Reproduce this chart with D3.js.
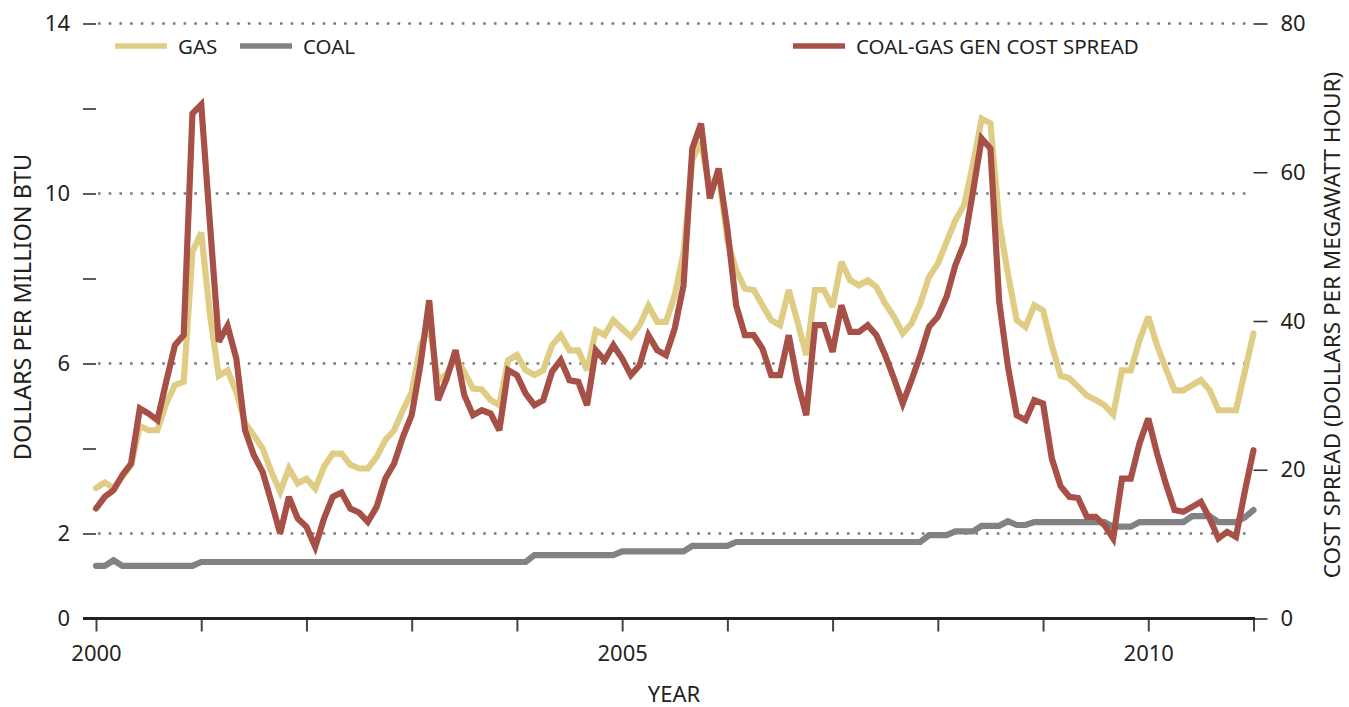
<!DOCTYPE html>
<html>
<head>
<meta charset="utf-8">
<script src="https://cdn.jsdelivr.net/npm/d3@7"></script>
<style>
  html, body { margin: 0; padding: 0; background: #fff; }
  svg { display: block; font-family: "Noto Sans", "Open Sans", sans-serif; }
</style>
</head>
<body>
<svg id="chart" width="1349" height="707"></svg>
<script>
// ---- Data (monthly, Jan 2000 .. Jan 2011) ----
const startYear = 2000;
const gas = [
  3.07, 3.20, 3.07, 3.33, 3.61, 4.53, 4.43, 4.43, 5.06, 5.49, 5.57, 8.63,
  9.08, 7.14, 5.71, 5.84, 5.33, 4.59, 4.31, 4.00, 3.45, 2.98, 3.53, 3.18,
  3.29, 3.06, 3.57, 3.88, 3.88, 3.62, 3.53, 3.53, 3.80, 4.20, 4.43, 4.90,
  5.33, 6.40, 6.90, 5.61, 5.75, 6.15, 5.80, 5.41, 5.39, 5.14, 5.02, 6.08,
  6.20, 5.84, 5.73, 5.84, 6.43, 6.67, 6.31, 6.31, 5.84, 6.78, 6.67, 7.02,
  6.82, 6.63, 6.90, 7.36, 6.98, 6.98, 7.61, 8.60, 10.80, 11.20, 10.10, 10.50,
  8.90, 8.20, 7.76, 7.73, 7.37, 7.02, 6.90, 7.73, 6.98, 6.20, 7.73, 7.73,
  7.33, 8.39, 7.96, 7.84, 7.96, 7.80, 7.41, 7.10, 6.71, 6.94, 7.41, 8.04,
  8.35, 8.86, 9.37, 9.73, 10.67, 11.76, 11.65, 9.33, 8.10, 7.02, 6.86, 7.37,
  7.25, 6.43, 5.71, 5.65, 5.45, 5.25, 5.14, 5.02, 4.80, 5.84, 5.84, 6.55,
  7.10, 6.43, 5.88, 5.37, 5.37, 5.49, 5.61, 5.37, 4.90, 4.90, 4.90, 5.80,
  6.71
];
const coal = [
  1.24, 1.24, 1.37, 1.24, 1.24, 1.24, 1.24, 1.24, 1.24, 1.24, 1.24, 1.24,
  1.33, 1.33, 1.33, 1.33, 1.33, 1.33, 1.33, 1.33, 1.33, 1.33, 1.33, 1.33,
  1.33, 1.33, 1.33, 1.33, 1.33, 1.33, 1.33, 1.33, 1.33, 1.33, 1.33, 1.33,
  1.33, 1.33, 1.33, 1.33, 1.33, 1.33, 1.33, 1.33, 1.33, 1.33, 1.33, 1.33,
  1.33, 1.33, 1.49, 1.49, 1.49, 1.49, 1.49, 1.49, 1.49, 1.49, 1.49, 1.49,
  1.58, 1.58, 1.58, 1.58, 1.58, 1.58, 1.58, 1.58, 1.71, 1.71, 1.71, 1.71,
  1.71, 1.80, 1.80, 1.80, 1.80, 1.80, 1.80, 1.80, 1.80, 1.80, 1.80, 1.80,
  1.80, 1.80, 1.80, 1.80, 1.80, 1.80, 1.80, 1.80, 1.80, 1.80, 1.80, 1.96,
  1.96, 1.96, 2.05, 2.05, 2.05, 2.18, 2.18, 2.18, 2.29, 2.20, 2.20, 2.27,
  2.27, 2.27, 2.27, 2.27, 2.27, 2.27, 2.27, 2.27, 2.16, 2.16, 2.16, 2.27,
  2.27, 2.27, 2.27, 2.27, 2.27, 2.41, 2.41, 2.41, 2.27, 2.27, 2.27, 2.38,
  2.55
];
const spread = [
  14.79, 16.36, 17.25, 19.27, 20.84, 28.24, 27.56, 26.67, 31.80, 36.75, 38.10, 67.90,
  69.10, 53.00, 37.20, 39.35, 34.96, 25.30, 21.96, 19.72, 15.69, 11.43, 16.36, 13.45,
  12.32, 9.64, 13.45, 16.36, 16.94, 14.79, 14.25, 13.00, 15.00, 18.82, 20.84, 24.43,
  27.34, 34.10, 42.80, 29.35, 32.27, 36.08, 30.03, 27.34, 28.00, 27.56, 25.32, 33.39,
  32.72, 30.25, 28.68, 29.35, 33.17, 34.73, 32.04, 31.82, 28.68, 36.08, 34.73, 36.75,
  34.96, 32.72, 34.06, 38.09, 36.08, 35.40, 39.00, 44.80, 63.20, 66.55, 56.50, 60.50,
  52.40, 42.10, 38.09, 38.09, 36.30, 32.72, 32.72, 38.09, 31.82, 27.34, 39.44, 39.44,
  35.85, 42.12, 38.54, 38.54, 39.44, 38.09, 35.40, 32.27, 28.91, 32.04, 35.40, 39.22,
  40.56, 43.25, 47.51, 50.42, 57.30, 64.54, 63.19, 42.58, 33.84, 27.34, 26.67, 29.35,
  28.91, 21.51, 17.80, 16.36, 16.20, 13.67, 13.67, 12.55, 10.76, 18.82, 18.82, 23.53,
  26.89, 22.18, 18.15, 14.57, 14.34, 15.01, 15.69, 13.45, 10.76, 11.65, 10.98, 17.03,
  22.63
];
const yearTicks = [2000, 2001, 2002, 2003, 2004, 2005, 2006, 2007, 2008, 2009, 2010, 2011];
const yearLabels = [2000, 2005, 2010];
const leftTicks = [0, 2, 4, 6, 8, 10, 12, 14];
const leftLabels = [0, 2, 6, 10, 14];
const gridValues = [2, 6, 10, 14];
const rightTicks = [0, 20, 40, 60, 80];
const seriesNames = ["GAS", "COAL", "COAL-GAS GEN COST SPREAD"];

// ---- Styling ----
const colors = { gas: "#e0cd85", coal: "#818286", spread: "#a65047" };
const textColor = "#231f20";

const svg = d3.select("#chart");

const x = d3.scaleLinear().domain([2000, 2011]).range([96, 1253.5]);
const yL = d3.scaleLinear().domain([0, 14]).range([618.5, 23.5]);
const yR = d3.scaleLinear().domain([0, 80]).range([618.5, 23.5]);

const tOf = i => startYear + i / 12;

// gridlines (dotted)
svg.append("g").selectAll("line").data(gridValues).join("line")
  .attr("x1", 98).attr("x2", 1251)
  .attr("y1", d => yL(d)).attr("y2", d => yL(d))
  .attr("stroke", "#7a7a7a").attr("stroke-width", 2.6)
  .attr("stroke-dasharray", "2.6 8.1");

// left axis
const leftAxis = d3.axisLeft(yL).tickValues(leftTicks).tickSize(13).tickPadding(13)
  .tickFormat(d => leftLabels.includes(d) ? d : "");
const gL = svg.append("g").attr("transform", "translate(96,0)").call(leftAxis);
gL.select(".domain").remove();
gL.selectAll(".tick line").attr("stroke", "#333").attr("stroke-width", 1.6);
gL.selectAll(".tick text").attr("fill", textColor).style("font-size", "22px")
  .style("font-family", "'Noto Sans', sans-serif");

// right axis
const rightAxis = d3.axisRight(yR).tickValues(rightTicks).tickSize(14).tickPadding(13);
const gR = svg.append("g").attr("transform", "translate(1253.5,0)").call(rightAxis);
gR.select(".domain").remove();
gR.selectAll(".tick line").attr("stroke", "#333").attr("stroke-width", 1.6);
gR.selectAll(".tick text").attr("fill", textColor).style("font-size", "22px")
  .style("font-family", "'Noto Sans', sans-serif");

// bottom axis
const bottomAxis = d3.axisBottom(x).tickValues(yearTicks).tickSize(13).tickPadding(14)
  .tickFormat(d => yearLabels.includes(d) ? d : "");
const gB = svg.append("g").attr("transform", "translate(0,618.5)").call(bottomAxis);
gB.select(".domain").remove();
gB.selectAll(".tick line").attr("stroke", "#444").attr("stroke-width", 2);
gB.selectAll(".tick text").attr("fill", textColor).style("font-size", "22px")
  .style("font-family", "'Noto Sans', sans-serif");
svg.append("line").attr("x1", 83).attr("x2", 1255).attr("y1", 618.5).attr("y2", 618.5)
  .attr("stroke", "#222").attr("stroke-width", 3);

// lines
const lineL = d3.line().x((d, i) => x(tOf(i))).y(d => yL(d));
const lineR = d3.line().x((d, i) => x(tOf(i))).y(d => yR(d));

const plot = svg.append("g").attr("fill", "none")
  .attr("stroke-width", 6.2).attr("stroke-linecap", "round").attr("stroke-linejoin", "miter")
  .attr("stroke-miterlimit", 3);
plot.append("path").datum(gas).attr("d", lineL).attr("stroke", colors.gas);
plot.append("path").datum(coal).attr("d", lineL).attr("stroke", colors.coal);
plot.append("path").datum(spread).attr("d", lineR).attr("stroke", colors.spread);

// axis titles
svg.append("text").attr("transform", "translate(31,307) rotate(-90)")
  .attr("text-anchor", "middle").attr("fill", textColor)
  .style("font-size", "23.5px").text("DOLLARS PER MILLION BTU");
svg.append("text").attr("transform", "translate(1340,325) rotate(-90)")
  .attr("text-anchor", "middle").attr("fill", textColor)
  .style("font-size", "22.5px").text("COST SPREAD (DOLLARS PER MEGAWATT HOUR)");
svg.append("text").attr("x", 674).attr("y", 702)
  .attr("text-anchor", "middle").attr("fill", textColor)
  .style("font-size", "22px").text("YEAR");

// legend
const legendItems = [
  { name: seriesNames[0], color: colors.gas, x: 115 },
  { name: seriesNames[1], color: colors.coal, x: 240 },
  { name: seriesNames[2], color: colors.spread, x: 793 }
];
const lg = svg.append("g").selectAll("g").data(legendItems).join("g")
  .attr("transform", d => `translate(${d.x},46)`);
lg.append("line").attr("x1", 0).attr("x2", 52).attr("y1", 0).attr("y2", 0)
  .attr("stroke", d => d.color).attr("stroke-width", 5.5);
lg.append("text").attr("x", 63).attr("y", 7.5).attr("fill", textColor)
  .style("font-size", "20.5px").text(d => d.name);
</script>
</body>
</html>
